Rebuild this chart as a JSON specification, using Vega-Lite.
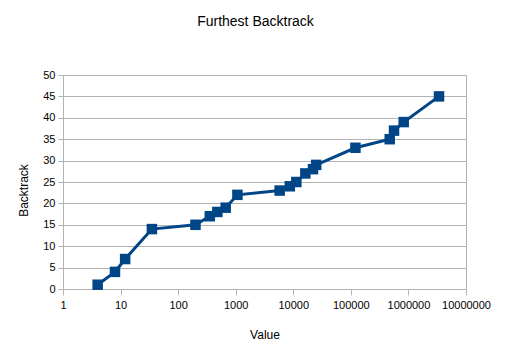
{
  "$schema": "https://vega.github.io/schema/vega-lite/v6.json",
  "width": 403,
  "height": 214,
  "autosize": {"type": "none"},
  "padding": {"left": 63, "top": 75, "right": 45, "bottom": 74},
  "background": "white",
  "title": {
    "text": "Furthest Backtrack",
    "font": "Liberation Sans",
    "fontSize": 14,
    "fontWeight": "normal",
    "color": "black",
    "anchor": "middle",
    "dx": -9,
    "offset": 40
  },
  "config": {
    "view": {"stroke": "#b3b3b3", "strokeWidth": 1},
    "axis": {
      "labelFont": "Liberation Sans",
      "titleFont": "Liberation Sans",
      "labelFontSize": 11,
      "titleFontSize": 12,
      "titleFontWeight": "normal",
      "labelColor": "black",
      "titleColor": "black",
      "domainColor": "#b3b3b3",
      "tickColor": "#b3b3b3",
      "gridColor": "#b3b3b3"
    }
  },
  "data": {
    "values": [
      {"value": 4, "backtrack": 1},
      {"value": 8, "backtrack": 4},
      {"value": 12, "backtrack": 7},
      {"value": 35, "backtrack": 14},
      {"value": 200, "backtrack": 15},
      {"value": 355, "backtrack": 17},
      {"value": 480, "backtrack": 18},
      {"value": 670, "backtrack": 19},
      {"value": 1070, "backtrack": 22},
      {"value": 5800, "backtrack": 23},
      {"value": 8700, "backtrack": 24},
      {"value": 11300, "backtrack": 25},
      {"value": 16200, "backtrack": 27},
      {"value": 22000, "backtrack": 28},
      {"value": 25000, "backtrack": 29},
      {"value": 120000, "backtrack": 33},
      {"value": 473000, "backtrack": 35},
      {"value": 562000, "backtrack": 37},
      {"value": 828000, "backtrack": 39},
      {"value": 3400000, "backtrack": 45}
    ]
  },
  "encoding": {
    "x": {
      "field": "value",
      "type": "quantitative",
      "scale": {"type": "log", "domain": [1, 10000000], "nice": false},
      "axis": {
        "title": "Value",
        "values": [1, 10, 100, 1000, 10000, 100000, 1000000, 10000000],
        "format": "d",
        "grid": false,
        "tickSize": 6,
        "labelPadding": 4,
        "titlePadding": 19,
        "labelFlush": false
      }
    },
    "y": {
      "field": "backtrack",
      "type": "quantitative",
      "scale": {"domain": [0, 50], "nice": false, "zero": true},
      "axis": {
        "title": "Backtrack",
        "values": [0, 5, 10, 15, 20, 25, 30, 35, 40, 45, 50],
        "grid": true,
        "tickSize": 5,
        "labelPadding": 3,
        "titlePadding": 12,
        "titleY": 115
      }
    }
  },
  "layer": [
    {"mark": {"type": "line", "color": "#004586", "strokeWidth": 3}},
    {"mark": {"type": "point", "shape": "square", "filled": true, "opacity": 1, "size": 110, "color": "#004586"}}
  ]
}
